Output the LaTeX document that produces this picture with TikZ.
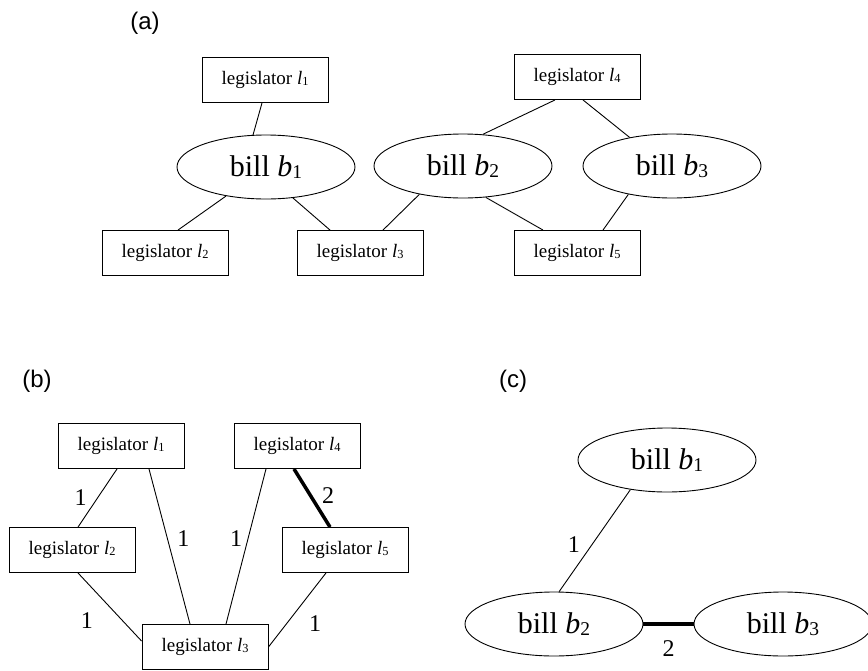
\documentclass[tikz,border=0pt]{standalone}
\usepackage{fontspec}
\setmainfont{Liberation Serif}
\newfontfamily\panelfont{Liberation Sans}
\usetikzlibrary{shapes.geometric}

\tikzset{
  leg/.style={draw, rectangle, minimum width=126pt, minimum height=45pt, inner sep=2pt, font=\fontsize{19}{22}\selectfont},
  bill/.style={draw, ellipse, minimum width=178pt, minimum height=64pt, inner sep=1pt, font=\fontsize{30}{34}\selectfont},
  wt/.style={inner sep=0pt, font=\fontsize{24}{26}\selectfont},
  panel/.style={inner sep=0pt, font=\panelfont\fontsize{24}{26}\selectfont},
  heavy/.style={line width=3.5pt},
}
\newcommand{\subidx}[1]{\raisebox{-.05em}{\scalebox{.65}{#1}}}
\newcommand{\legis}[1]{legislator \textit{l}\subidx{#1}}
\newcommand{\billn}[1]{bill \textit{b}\subidx{#1}}

\begin{document}
\begin{tikzpicture}[x=1pt,y=-1pt,line width=.9pt]
\useasboundingbox (0,0) rectangle (868,670);

% (a) bills and legislators
\node[panel] (pa) at (145,23) {(a)};

\node[leg] (l1a) at (265,80) {\legis{1}};
\node[leg] (l4a) at (577,77) {\legis{4}};
\node[bill] (b1a) at (266,167) {\billn{1}};
\node[bill] (b2a) at (463,166) {\billn{2}};
\node[bill] (b3a) at (672,166) {\billn{3}};
\node[leg] (l2a) at (165,253) {\legis{2}};
\node[leg] (l3a) at (360,253) {\legis{3}};
\node[leg] (l5a) at (577,253) {\legis{5}};

\draw ([xshift=-3pt]l1a.south) -- (b1a.112);
\draw (b1a.216) -- ([xshift=13pt]l2a.north);
\draw (b1a.311) -- ([xshift=-30pt]l3a.north);
\draw (b2a.213) -- ([xshift=23pt]l3a.north);
\draw ([xshift=-22pt]l4a.south) -- (b2a.58);
\draw ([xshift=6pt]l4a.south) -- (b3a.146);
\draw (b2a.306) -- ([xshift=-34pt]l5a.north);
\draw (b3a.213) -- ([xshift=26pt]l5a.north);

% (b) legislator graph
\node[panel] (pb) at (37,381) {(b)};

\node[leg] (l1b) at (121,446) {\legis{1}};
\node[leg] (l4b) at (297,446) {\legis{4}};
\node[leg] (l2b) at (72,550) {\legis{2}};
\node[leg] (l5b) at (345,550) {\legis{5}};
\node[leg] (l3b) at (205,647) {\legis{3}};

\draw ([xshift=-4pt]l1b.south) -- node[wt, midway, xshift=-17pt] {1} ([xshift=6pt]l2b.north);
\draw ([xshift=28pt]l1b.south) -- node[wt, pos=.45, xshift=16pt] {1} ([xshift=-15pt]l3b.north);
\draw ([xshift=-31pt]l4b.south) -- node[wt, pos=.45, xshift=-12pt] {1} ([xshift=21pt]l3b.north);
\draw[heavy] ([xshift=-3pt]l4b.south) -- node[wt, pos=.45, xshift=18pt] {2} ([xshift=-15pt]l5b.north);
\draw ([xshift=6pt]l2b.south) -- node[wt, midway, xshift=-23pt, yshift=-14pt] {1} ([yshift=6pt]l3b.west);
\draw ([xshift=-19pt]l5b.south) -- node[wt, midway, xshift=18pt, yshift=-14pt] {1} (l3b.east);

% (c) bill graph
\node[panel] (pc) at (513,381) {(c)};

\node[bill] (b1c) at (667,460) {\billn{1}};
\node[bill] (b2c) at (554,624) {\billn{2}};
\node[bill] (b3c) at (783,624) {\billn{3}};

\draw (b1c.219) -- node[wt, midway, xshift=-21pt, yshift=-4pt] {1} (b2c.81);
\draw[heavy] (b2c.east) -- node[wt, midway, yshift=-25pt] {2} (b3c.west);

\end{tikzpicture}
\end{document}
